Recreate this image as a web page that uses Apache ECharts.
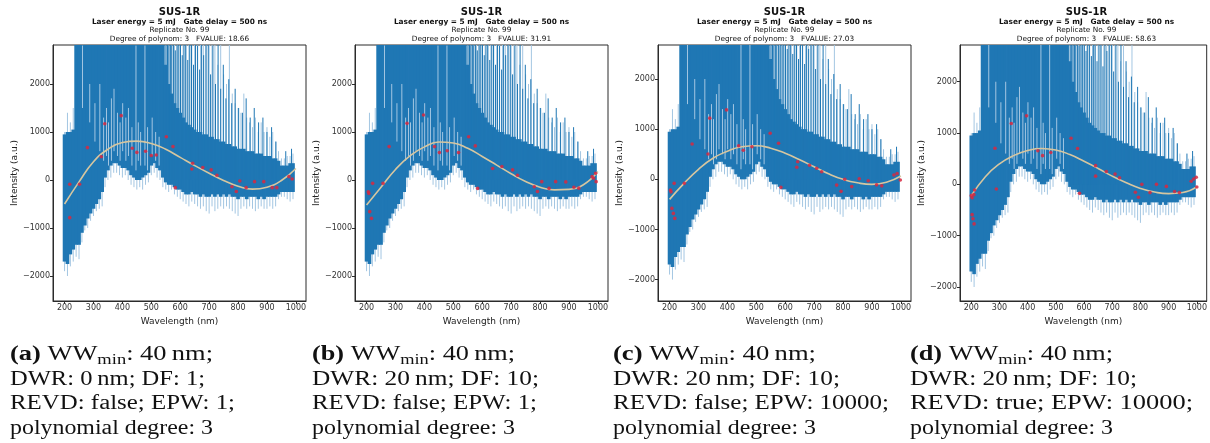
<!DOCTYPE html>
<html><head><meta charset="utf-8">
<script src="https://cdn.jsdelivr.net/npm/echarts@6/dist/echarts.min.js"></script>
<style>html,body{margin:0;padding:0;background:#fff}#c{width:1210px;height:443px}</style>
</head><body><div id="c"></div>
<script>
// ---------- data ----------
const wavelengths = [200,210,220,230,240,250,260,270,280,290,300,310,320,330,340,350,360,370,380,390,400,410,420,430,440,450,460,470,480,490,500,510,520,530,540,550,560,570,580,590,600,610,620,630,640,650,660,670,680,690,700,710,720,730,740,750,760,770,780,790,800,810,820,830,840,850,860,870,880,890,900,910,920,930,940,950,960,970,980,990];
const darkLo = [-1700,-1750,-1550,-1450,-1350,-1350,-1100,-950,-800,-700,-600,-500,-400,-250,50,200,300,350,350,300,250,250,200,100,50,0,0,50,100,150,300,350,250,200,50,-50,-100,-100,-150,-200,-200,-250,-300,-300,-250,-300,-300,-350,-300,-350,-350,-300,-350,-300,-350,-300,-350,-300,-350,-350,-400,-350,-350,-400,-350,-350,-350,-400,-350,-400,-350,-350,-350,-350,-300,-250,-250,-250,-250,-250];
const darkHi = [950,1000,1000,1050,3000,3000,3000,3000,3000,3000,3000,3000,3000,3000,3000,3000,3000,3000,3000,3000,3000,3000,3000,3000,3000,3000,3000,3000,3000,3000,3000,3000,3000,3000,3000,2400,2000,1800,1600,1500,1400,1300,1200,1150,1100,1050,1000,1000,950,950,900,900,850,850,800,800,750,750,700,700,650,650,650,600,600,600,550,550,550,500,500,500,450,450,400,300,300,300,350,350];
const lightLo = [-1900,-2000,-1800,-1700,-1600,-1650,-1300,-1050,-1000,-850,-750,-650,-600,-550,-150,0,50,150,150,100,50,100,0,-100,-150,-200,-150,-200,-100,-50,100,150,50,0,-150,-200,-250,-200,-300,-350,-400,-450,-500,-550,-450,-500,-550,-600,-550,-650,-700,-550,-650,-600,-550,-600,-550,-600,-650,-700,-750,-600,-550,-600,-550,-600,-650,-600,-550,-600,-600,-550,-600,-550,-400,-350,-350,-400,-450,-400];
const lightHi = [1000,1400,1200,1500,3000,3000,3000,3000,3000,3000,3000,3000,3000,3000,3000,3000,3000,3000,3000,3000,3000,3000,3000,3000,3000,3000,3000,3000,3000,3000,3000,3000,3000,3000,3000,3000,3000,3000,3000,3000,3000,3000,3000,3000,3000,3000,3000,3000,3000,3000,3000,3000,3000,2400,3000,2200,2000,3000,1800,1600,1500,1400,1800,1300,1200,1100,1300,1000,1200,1000,1100,900,1000,800,600,450,450,500,500,550];
// light gaps visible inside the dense part: [wavelength, low, high]
const gapLines = [[262,1500,2800],[287,1200,2000],[305,800,1600],[322,600,2000],[335,400,1300],[345,500,1500],[352,300,1200],[362,400,1700],[371,600,1900],[383,500,1400],[392,400,1200],[401,600,1600],[412,400,1300],[421,500,1500],[433,300,1100],[447,200,2800],[455,400,1200],[463,300,1000],[478,300,2800],[487,200,1100],[503,500,1300],[515,400,1000],[527,300,900]];
// isolated dark spikes: [wavelength, low, high]
const darkSpikes = [[551,0,3000],[556,0,3000],[561,0,2900],[566,0,3000],[571,0,3000],[577,0,3000],[583,0,2700],[589,0,3000],[595,0,3000],[601,0,3000],[607,0,2600],[613,0,3000],[619,0,3000],[626,0,2500],[633,0,3000],[639,0,3000],[646,0,2400],[653,0,3000],[660,0,2800],[667,0,2300],[674,0,3000],[681,0,2600],[689,0,3000],[697,0,3000],[705,0,2200],[713,0,2800],[722,0,2000],[731,0,3000],[740,0,1900],[749,0,2400],[758,0,1700],[768,0,2100],[778,0,1600],[790,0,1900],[802,0,1500],[815,0,1400],[828,0,1700],[842,0,1300],[856,0,1500],[871,0,1200],[886,0,1300],[900,0,1000],[916,0,1100],[931,0,800],[965,0,600],[985,0,650]];

const xTicks = [200,300,400,500,600,700,800,900,1000];
const yTicks = [-2000,-1000,0,1000,2000];

const curveWl = [200,250,300,350,400,450,500,550,600,650,700,750,800,850,900,950,1000];
const curveA = [-500,-40,380,640,780,810,760,640,470,300,140,-10,-130,-190,-150,-10,240];
const curveB = [-520,-150,220,500,690,790,770,660,490,310,130,-30,-150,-205,-195,-100,175];
const curveC = [-400,-80,200,420,560,650,670,620,520,390,250,110,0,-70,-100,-60,65];
const curveD = [-220,150,400,560,660,700,670,580,450,310,160,30,-80,-150,-180,-160,-50];

const pointsA = [[218,-90],[252,-90],[218,-785],[279,675],[327,485],[339,1170],[396,1340],[434,660],[450,575],[480,600],[500,510],[517,520],[552,900],[575,695],[583,-160],[640,230],[643,350],[678,260],[707,210],[727,100],[779,-140],[794,-240],[806,-20],[828,-160],[857,-35],[889,-35],[918,-160],[934,-160],[976,70],[987,20]];
const pointsB = [[206,-245],[208,-280],[221,-70],[211,-660],[217,-800],[257,-70],[278,695],[340,1180],[397,1355],[435,695],[452,570],[479,610],[518,570],[553,900],[576,710],[584,-175],[636,240],[668,280],[705,210],[722,100],[780,-140],[791,-240],[806,-35],[831,-175],[854,-35],[889,-40],[917,-150],[934,-170],[980,70],[985,35],[992,140],[994,-35]];
const pointsC = [[203,-215],[205,-250],[216,-80],[208,-580],[213,-680],[218,-780],[251,-80],[278,705],[333,505],[339,1220],[397,1385],[439,670],[455,580],[485,650],[548,920],[577,720],[585,-160],[640,240],[643,350],[684,280],[709,220],[726,150],[778,-115],[793,-240],[806,0],[830,-145],[856,10],[887,-30],[916,-110],[934,-130],[976,85],[987,115],[998,-15]];
const pointsD = [[200,-220],[203,-260],[209,-200],[212,-110],[203,-590],[206,-670],[210,-770],[284,705],[289,-90],[342,1185],[396,1335],[436,655],[453,560],[482,620],[554,900],[577,700],[584,-175],[641,365],[641,160],[679,250],[710,200],[726,130],[782,-155],[793,-250],[805,0],[834,-160],[857,0],[892,-40],[921,-140],[938,-160],[980,60],[989,105],[998,140],[1000,-50]];

const fvalues = ['18.66','31.91','27.03','58.63'];
const panelTags = ['(a)','(b)','(c)','(d)'];
const capWW = ['40','40','40','40'];
const capDWR = ['0','20','20','20'];
const capDF = ['1','10','10','10'];
const capREVD = ['false','false','false','true'];
const capEPW = ['1','1','10000','10000'];
const yRanges = [[-2521,2812],[-2521,2812],[-2427,2679],[-2273,2716]];
const xRange = [160,1035];

// ---------- layout ----------
const gridLeft = [53,355,658,960];
const gridTop = 45, gridW = 253, gridH = 256;
const capX = [10,312,613,910];
// target rendered width of each caption line (px)
const capWidths = [[203,195,225,203],[203,227,225,203],[203,227,276,203],[203,227,283,203]];
const capBaselines = [361.5,386,410.5,435];
const BLUE = '#1f77b4', LIGHT = '#a3c6e2';

const chart = echarts.init(document.getElementById('c'), null, {renderer:'canvas'});

function clipToGrid(params, r){
  const cs = params.coordSys;
  return echarts.graphic.clipRectByRect(r, {x:cs.x, y:cs.y, width:cs.width, height:cs.height});
}
function rectItem(params, api){
  const x = api.value(0), lo = api.value(1), hi = api.value(2);
  const p0 = api.coord([x-5, hi]), p1 = api.coord([x+5, lo]);
  const shape = clipToGrid(params, {x:p0[0]-0.4, y:p0[1], width:p1[0]-p0[0]+0.8, height:p1[1]-p0[1]});
  return shape && {type:'rect', shape, style:{fill:BLUE}};
}
function lineItem(color, w){
  return function(params, api){
    const x = api.value(0);
    const p0 = api.coord([x, api.value(2)]), p1 = api.coord([x, api.value(1)]);
    const cs = params.coordSys;
    const top = Math.max(p0[1], cs.y), bot = Math.min(p1[1], cs.y + cs.height);
    if (bot <= top) return null;
    return {type:'line', shape:{x1:p0[0], y1:top, x2:p0[0], y2:bot}, style:{stroke:color, lineWidth:w}};
  };
}

const fmtY = v => v < 0 ? '\u2212' + Math.abs(v) : String(v);
const fmtX = v => String(v);
const curves = [curveA, curveB, curveC, curveD];
const points = [pointsA, pointsB, pointsC, pointsD];

const mctx = document.createElement('canvas').getContext('2d');
function tw(text, font){ mctx.font = font; return mctx.measureText(text).width; }
const SERIF = '"Liberation Serif"';
const F_MAIN = '20px ' + SERIF, F_BOLD = 'bold 20px ' + SERIF, F_SUB = '14px ' + SERIF;
const INK = '#111';

function captionLine(x, baseline, pieces, target){
  let cur = 0; const children = [];
  pieces.forEach(p => {
    const isSub = p[1] === F_SUB;
    const cy = isSub ? baseline + 3.3 - 4.7 : baseline - 6.75;
    children.push({type:'text', x:cur, y:cy, style:{text:p[0], font:p[1], fill:INK, align:'left', verticalAlign:'middle'}});
    cur += tw(p[0], p[1]);
  });
  return {type:'group', x:x, y:0, scaleX: target / cur, scaleY:1, children};
}

const grids = [], xAxes = [], yAxes = [], series = [], graphics = [];
for (let i = 0; i < 4; i++){
  grids.push({left:gridLeft[i], top:gridTop, width:gridW, height:gridH, show:true, borderColor:'#2b2b2b', borderWidth:1, backgroundColor:'#fff'});
  xAxes.push({gridIndex:i, type:'value', min:xRange[0], max:xRange[1],
    axisLine:{show:true, onZero:false, lineStyle:{color:'#2b2b2b', width:1}},
    axisTick:{show:true, length:3, customValues:xTicks, lineStyle:{color:'#2b2b2b'}},
    axisLabel:{customValues:xTicks, fontSize:8, color:'#333', fontFamily:'DejaVu Sans', margin:3, formatter:fmtX},
    splitLine:{show:false},
    name:'Wavelength (nm)', nameLocation:'middle', nameGap:9,
    nameTextStyle:{fontSize:9, fontFamily:'DejaVu Sans', color:'#222'}});
  yAxes.push({gridIndex:i, type:'value', min:yRanges[i][0], max:yRanges[i][1],
    axisLine:{show:true, onZero:false, lineStyle:{color:'#2b2b2b', width:1}},
    axisTick:{show:true, length:3, customValues:yTicks, lineStyle:{color:'#2b2b2b'}},
    axisLabel:{customValues:yTicks, fontSize:8, color:'#333', fontFamily:'DejaVu Sans', margin:3, formatter:fmtY},
    splitLine:{show:false},
    name:'Intensity (a.u.)', nameLocation:'middle', nameGap:27,
    nameTextStyle:{fontSize:9, fontFamily:'DejaVu Sans', color:'#222'}});

  const envLight = wavelengths.map((w,k)=>[w, lightLo[k], lightHi[k]]);
  const envDark = wavelengths.map((w,k)=>[w, darkLo[k], darkHi[k]]);
  series.push({type:'custom', xAxisIndex:i, yAxisIndex:i, renderItem:lineItem(LIGHT,1), data:envLight, clip:true, silent:true, z:1});
  series.push({type:'custom', xAxisIndex:i, yAxisIndex:i, renderItem:rectItem, data:envDark, clip:true, silent:true, z:2});
  series.push({type:'custom', xAxisIndex:i, yAxisIndex:i, renderItem:lineItem(BLUE,1), data:darkSpikes, clip:true, silent:true, z:3});
  series.push({type:'custom', xAxisIndex:i, yAxisIndex:i, renderItem:lineItem(LIGHT,1), data:gapLines, clip:true, silent:true, z:3});
  series.push({type:'line', xAxisIndex:i, yAxisIndex:i, data:curveWl.map((w,k)=>[w, curves[i][k]]), smooth:0.5, showSymbol:false,
    lineStyle:{color:'#d6c6a0', width:1.6}, z:5, silent:true});
  series.push({type:'scatter', xAxisIndex:i, yAxisIndex:i, data:points[i], symbolSize:3.6,
    itemStyle:{color:'#d8283f', opacity:0.85}, z:6, silent:true});

  const cx = gridLeft[i] + gridW/2;
  const tline = (text, y, font) => ({type:'text', x:cx, y:y, style:{text, font, fill:'#111', align:'center', verticalAlign:'middle'}});
  graphics.push(tline('SUS-1R', 12.5, 'bold 10px "DejaVu Sans"'));
  graphics.push(tline('Laser energy = 5 mJ   Gate delay = 500 ns', 22, 'bold 7.4px "DejaVu Sans"'));
  graphics.push(tline('Replicate No. 99', 30.5, '7.3px "DejaVu Sans"'));
  graphics.push(tline('Degree of polynom: 3   FVALUE: ' + fvalues[i], 39.3, '7.3px "DejaVu Sans"'));

  const lines = [
    [[panelTags[i], F_BOLD], [' WW', F_MAIN], ['min', F_SUB], [': ' + capWW[i] + '\u2009nm;', F_MAIN]],
    [['DWR: ' + capDWR[i] + '\u2009nm; DF: ' + capDF[i] + ';', F_MAIN]],
    [['REVD: ' + capREVD[i] + '; EPW: ' + capEPW[i] + ';', F_MAIN]],
    [['polynomial degree: 3', F_MAIN]]
  ];
  lines.forEach((pcs, k) => graphics.push(captionLine(capX[i], capBaselines[k], pcs, capWidths[i][k])));
}

chart.setOption({
  animation:false,
  backgroundColor:'#fff',
  grid:grids, xAxis:xAxes, yAxis:yAxes, series, graphic:graphics
});
</script></body></html>
